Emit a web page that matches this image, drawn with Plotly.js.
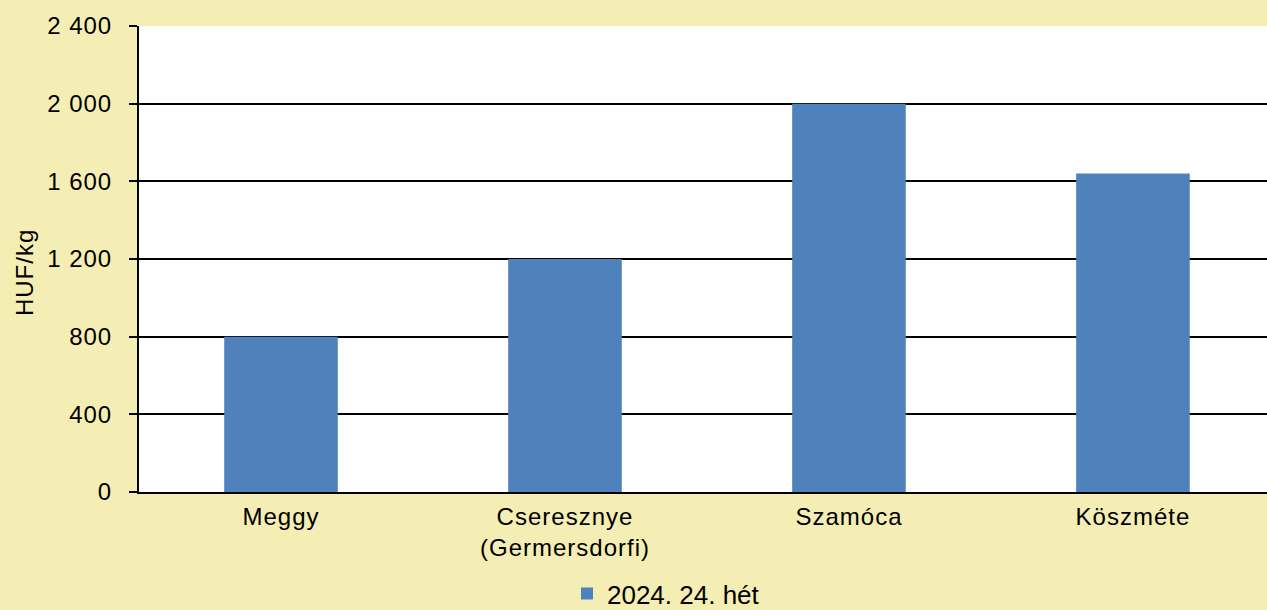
<!DOCTYPE html>
<html><head><meta charset="utf-8">
<script src="https://cdn.plot.ly/plotly-3.0.1.min.js"></script>
<style>html,body{margin:0;padding:0;background:#F5EEB4;}#chart{width:1267px;height:610px;}
#chart .xtick text, #chart .ytick text, #chart .annotation-text{letter-spacing:1px;}</style>
</head><body><div id="chart"></div>
<script>
const categories = ["Meggy", "Cseresznye<br>(Germersdorfi)", "Szamóca", "Köszméte"];
const values = [800, 1200, 2000, 1640];
const seriesName = "2024. 24. hét";
const tickVals = [0, 400, 800, 1200, 1600, 2000, 2400];
const yTitle = "HUF/kg";

const trace = {
  type: "bar", x: categories, y: values, name: seriesName,
  marker: {color: "#4F81BD"}, hoverinfo: "x+y"
};
const layout = {
  width: 1267, height: 610,
  paper_bgcolor: "#F5EEB4", plot_bgcolor: "#FFFFFF",
  separators: ", ",
  font: {family: "Liberation Sans, Arial, sans-serif", size: 24, color: "#000"},
  margin: {l: 139, r: 0, t: 26, b: 118, autoexpand: false},
  bargap: 0.6,
  showlegend: true,
  legend: {orientation: "h", x: 0.4475, xref: "container", xanchor: "left", yref: "paper", y: -0.218, yanchor: "middle",
           font: {size: 26}, itemwidth: 30, bgcolor: "rgba(0,0,0,0)"},
  xaxis: {range: [-0.5, 3.472], showline: true, linecolor: "#000", linewidth: 2, ticks: "outside", ticklen: 2, tickcolor: "rgba(0,0,0,0)",
          showgrid: false, tickfont: {size: 24}, automargin: false},
  yaxis: {range: [0, 2400], tickvals: tickVals, tickformat: ",d", showgrid: true, gridcolor: "#000", gridwidth: 2,
          showline: true, linecolor: "#000", linewidth: 2, ticks: "outside", ticklen: 8, tickwidth: 2, tickcolor: "#000",
          ticklabelstandoff: 12, zeroline: false, tickfont: {size: 24}, automargin: false},
  annotations: [{text: yTitle, xref: "paper", yref: "paper", x: -0.101, y: 0.47, textangle: -90,
                 showarrow: false, xanchor: "center", yanchor: "middle", font: {size: 24}}]
};
Plotly.newPlot("chart", [trace], layout, {displayModeBar: false, staticPlot: true});
</script></body></html>
